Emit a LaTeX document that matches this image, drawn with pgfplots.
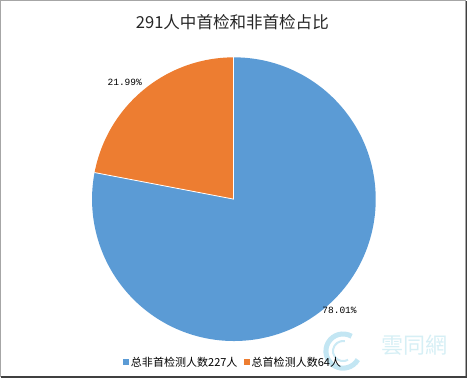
\documentclass[border=0pt]{standalone}
\usepackage{pgfplots}
\usepackage{pgfplotstable}
\pgfplotsset{compat=1.18}
\usepackage{fontspec}
\setmainfont{Noto Sans CJK SC}
\newfontfamily\labelfont{Liberation Mono}
\definecolor{pieblue}{HTML}{5B9BD5}
\definecolor{pieorange}{HTML}{ED7D31}
\definecolor{wm}{HTML}{D6EFF5}
\definecolor{wmlogo}{HTML}{A9DCEE}
\pgfplotstableread{
label value
nonfirst 227
first 64
}\piedata
\pgfplotstablegetelem{0}{value}\of\piedata \let\va\pgfplotsretval
\pgfplotstablegetelem{1}{value}\of\piedata \let\vb\pgfplotsretval
\pgfmathsetmacro\total{\va+\vb}
\pgfmathsetmacro\fracA{\va/\total}
\pgfmathsetmacro\angA{360*\fracA}
\pgfmathsetmacro\endA{90-\angA}
\begin{document}
\begin{tikzpicture}
\begin{axis}[
  x=1bp, y=1bp, xmin=0, xmax=467, ymin=0, ymax=378,
  hide axis, clip=false, scale only axis,
]
% frame
\draw[gray!70, line width=1bp] (axis cs:2.5,2.5) rectangle (axis cs:464.5,376.5);
\draw[black!75, line width=1.5bp] (axis cs:3,2) -- (axis cs:465.5,2) -- (axis cs:465.5,376);
% title
\node[font=\fontsize{16.5}{19}\selectfont, text=black!85] at (axis cs:233,355) {291人中首检和非首检占比};
% pie
\fill[pieblue] (axis cs:234.5,179) -- ++(90:141bp) arc[start angle=90, end angle=\endA, radius=141bp] -- cycle;
\fill[pieorange] (axis cs:234.5,179) -- ++(\endA:141bp) arc[start angle=\endA, end angle=-270, radius=141bp] -- cycle;
\draw[white, line width=0.8bp] (axis cs:234.5,179) -- ++(90:141bp);
\draw[white, line width=0.8bp] (axis cs:234.5,179) -- ++(\endA:141bp);
% data labels
\node[font=\labelfont\fontsize{9.5}{11}\selectfont] at (axis cs:126,295) {21.99\%};
\node[font=\labelfont\fontsize{9.5}{11}\selectfont] at (axis cs:339.5,68) {78.01\%};
% watermark
\node[font=\fontsize{22}{25}\selectfont, text=wm] at (axis cs:414,34) {雲同網};
\draw[wmlogo, line width=5bp, opacity=0.7] (axis cs:343,28) ++(60:17bp) arc[start angle=60, end angle=330, radius=17bp];
\draw[wmlogo, line width=2bp, opacity=0.6] (axis cs:343,28) ++(80:10bp) arc[start angle=80, end angle=300, radius=10bp];
% legend
\fill[pieblue] (axis cs:124,14) rectangle (axis cs:130,20);
\node[anchor=west, font=\fontsize{11}{13}\selectfont, inner sep=0pt] at (axis cs:132,17) {总非首检测人数227人};
\fill[pieorange] (axis cs:245,14) rectangle (axis cs:251,20);
\node[anchor=west, font=\fontsize{11}{13}\selectfont, inner sep=0pt] at (axis cs:252,17) {总首检测人数64人};
\end{axis}
\end{tikzpicture}
\end{document}
